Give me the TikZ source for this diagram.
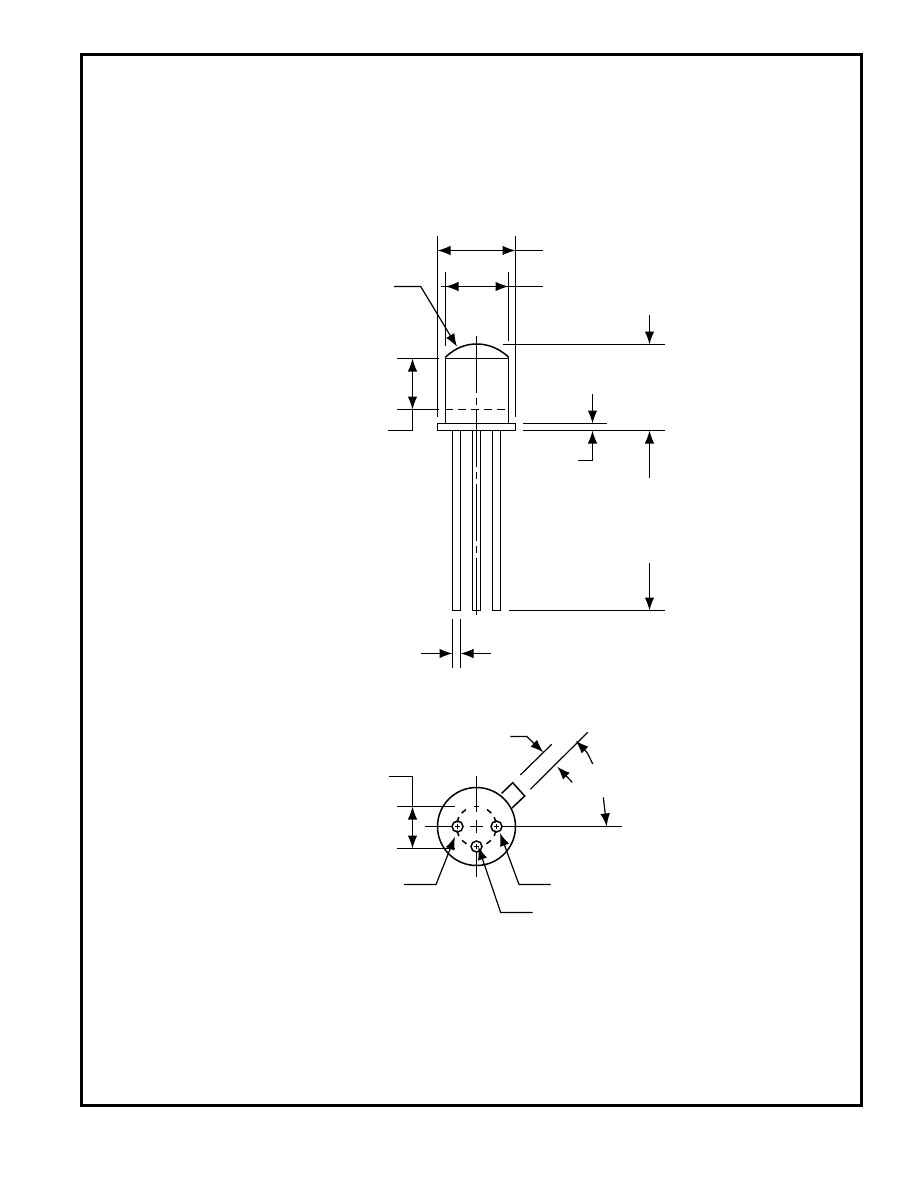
\documentclass[tikz,border=0pt]{standalone}
\usetikzlibrary{arrows.meta}
\tikzset{
  part/.style={line width=1.5pt},
  dimline/.style={line width=1.2pt},
  centerline/.style={line width=1.2pt, dash pattern=on 57pt off 5pt on 7pt off 5pt},
  hidden/.style={line width=1.2pt, dash pattern=on 8pt off 5pt},
}
\begin{document}
\begin{tikzpicture}[x=1pt, y=-1pt, >={Latex[length=13pt,width=9.5pt]}]
  \useasboundingbox (0,0) rectangle (918,1188);

  % Page frame
  \draw[line width=3pt] (81.5,54.5) rectangle (861.5,1105.5);

  % Side view: dome, body and flange
  \draw[part] (445.5,357) .. controls (456,347.5) and (466,344) .. (476.7,344)
    .. controls (487,344) and (498,347.5) .. (508.5,357);
  \draw[dimline] (445.5,358.5) -- (508.5,358.5);
  \draw[dimline] (445.5,357) -- (445.5,423);
  \draw[dimline] (508.5,357) -- (508.5,423);
  \draw[hidden] (444.5,409.5) -- (509,409.5);
  \draw[dimline] (437.5,423.5) rectangle (515.5,430.5);

  % Leads
  \foreach \xa/\xb in {452.5/460.5, 472.5/480.5, 492.5/500.5}
    \draw[dimline] (\xa,430.5) -- (\xa,610.5) -- (\xb,610.5) -- (\xb,430.5);

  % Axis of the side view
  \draw[centerline] (476.5,336) -- (476.5,619);

  % Overall widths at the top
  \draw[dimline] (437.5,236) -- (437.5,417);
  \draw[dimline] (515.5,236) -- (515.5,417);
  \draw[dimline] (515.5,250.5) -- (543,250.5);
  \draw[dimline, <->] (437.5,250.5) -- (515.5,250.5);
  \draw[dimline] (445.5,272) -- (445.5,346);
  \draw[dimline] (508.5,272) -- (508.5,341);
  \draw[dimline] (441,286.5) -- (543,286.5);
  \draw[dimline, <->] (445.5,286.5) -- (508.5,286.5);

  % Leader to the dome
  \draw[dimline, ->] (394,286.5) -- (420.7,286.5) -- (457,346.7);

  % Body height at the left
  \draw[dimline] (397,358.5) -- (438.7,358.5);
  \draw[dimline] (397,409.5) -- (438.7,409.5);
  \draw[dimline, <->] (412.5,358.5) -- (412.5,409.5);
  \draw[dimline] (412.5,409.5) -- (412.5,430.5) -- (388.3,430.5);

  % Heights at the right
  \draw[dimline] (503,344.5) -- (665,344.5);
  \draw[dimline, ->] (649.5,315) -- (649.5,344.5);
  \draw[dimline] (523,423.5) -- (606.7,423.5);
  \draw[dimline] (523,430.5) -- (665,430.5);
  \draw[dimline, ->] (592.5,394) -- (592.5,423.5);
  \draw[dimline, ->] (578,460.5) -- (592.5,460.5) -- (592.5,430.5);
  \draw[dimline, ->] (649.5,478) -- (649.5,430.5);
  \draw[dimline] (509,610.5) -- (665,610.5);
  \draw[dimline, ->] (649.5,563) -- (649.5,610.5);

  % Lead width
  \draw[dimline] (452.5,619) -- (452.5,668);
  \draw[dimline] (460.5,619) -- (460.5,668);
  \draw[dimline, ->] (421,653.5) -- (452.5,653.5);
  \draw[dimline, ->] (491,653.5) -- (460.5,653.5);

  % Bottom view
  \coordinate (hub) at (476.5,826.5);
  \draw[part] (hub) circle[radius=39pt];
  \draw[part] (501.7,793.3) -- (512.7,782.7) -- (524.7,796) -- (512,808);

  % Pins, each with its small cross
  \foreach \px/\py in {457.5/826.5, 496.5/826.5, 476.5/846.5}{
    \draw[part] (\px,\py) circle[radius=5.5pt];
    \draw[line width=1pt] (\px-2.5,\py) -- (\px+2.5,\py);
    \draw[line width=1pt] (\px,\py-2.5) -- (\px,\py+2.5);
  }

  % Pin circle
  \foreach \ang in {90, 50, 130, 20, 160, -20, -160, -52, -128}
    \draw[part, shift={(hub)}] (\ang-8:20pt) arc[start angle=\ang-8, delta angle=16, radius=20pt];

  % Center lines of the bottom view
  \draw[dimline] (476.5,776) -- (476.5,812);
  \draw[dimline] (476.5,820) -- (476.5,833);
  \draw[dimline] (476.5,852) -- (476.5,877);
  \draw[dimline] (425,826.5) -- (451.5,826.5);
  \draw[dimline] (470,826.5) -- (483,826.5);
  \draw[dimline] (502,826.5) -- (621.7,826.5);

  % Pin circle diameter
  \draw[dimline] (397,806.5) -- (455,806.5);
  \draw[dimline] (397,848.5) -- (455,848.5);
  \draw[dimline, <->] (412.5,806.5) -- (412.5,848.5);
  \draw[dimline] (412.5,806.5) -- (412.5,776.5) -- (389,776.5);

  % Pin leaders
  \draw[dimline, ->] (404,884.5) -- (436,884.5) -- (455,836.7);
  \draw[dimline, ->] (550.7,884.5) -- (519,884.5) -- (500,833);
  \draw[dimline, ->] (532.7,912.5) -- (500.7,912.5) -- (478.3,846.7);

  % Tab dimensions
  \draw[dimline] (520.3,775) -- (551.7,744.3);
  \draw[dimline] (530.3,789.3) -- (587.7,732.3);
  \draw[dimline, ->] (510.3,736.5) -- (526.7,736.5) -- (543.3,752.3);
  \draw[dimline, ->] (572.3,782.3) -- (557.3,766.7);
  \draw[dimline, ->] (592.7,764) .. controls (587,752) .. (575.7,740.7);
  \draw[dimline, ->] (603.3,797.3) -- (606.7,826.5);
\end{tikzpicture}
\end{document}
